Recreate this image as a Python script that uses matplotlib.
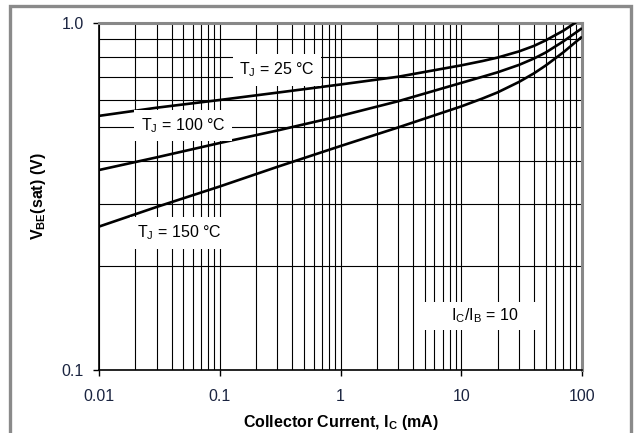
import numpy as np
import matplotlib.pyplot as plt
from matplotlib.patches import Rectangle
from matplotlib.ticker import LogLocator, FixedLocator, NullFormatter

plt.rcParams['font.family'] = ['Liberation Sans', 'DejaVu Sans']
plt.rcParams['mathtext.fontset'] = 'custom'
plt.rcParams['mathtext.rm'] = 'Liberation Sans'
plt.rcParams['mathtext.bf'] = 'Liberation Sans:bold'

# collector current (mA) and V_BE(sat) (V) for three junction temperatures
ic_ma = [0.01, 0.03, 0.1, 0.3, 1, 3, 10, 15, 20, 30, 40, 50, 70, 100]
vbe_25c = [0.54, 0.57, 0.60, 0.63, 0.665, 0.70, 0.755, 0.777, 0.795, 0.828, 0.859, 0.891, 0.95, 1.032]
vbe_100c = [0.377, 0.41, 0.451, 0.49, 0.54, 0.595, 0.672, 0.70, 0.721, 0.757, 0.79, 0.822, 0.885, 0.966]
vbe_150c = [0.259, 0.295, 0.338, 0.385, 0.442, 0.50, 0.575, 0.606, 0.631, 0.676, 0.716, 0.754, 0.823, 0.913]

x_ticks = [0.01, 0.1, 1, 10, 100]
x_ticklabels = ["0.01", "0.1", "1", "10", "100"]
y_ticks = [0.1, 1.0]
y_ticklabels = ["0.1", "1.0"]

label_color = "#1a2440"

fig = plt.figure(figsize=(6.34, 4.33), dpi=100)
ax = fig.add_axes([99 / 634, 63 / 433, 483 / 634, 347 / 433])

ax.set_xscale("log")
ax.set_yscale("log")
ax.set_xlim(0.01, 100)
ax.set_ylim(0.1, 1.0)

# grid: every minor decade line in x, 0.2..0.9 in y
ax.xaxis.set_minor_locator(LogLocator(base=10, subs=np.arange(2, 10)))
ax.yaxis.set_minor_locator(LogLocator(base=10, subs=np.arange(2, 10)))
ax.xaxis.set_minor_formatter(NullFormatter())
ax.yaxis.set_minor_formatter(NullFormatter())
ax.grid(True, which="both", color="black", linewidth=0.8)
ax.set_axisbelow(True)

ax.xaxis.set_major_locator(FixedLocator(x_ticks))
ax.set_xticklabels(x_ticklabels)
ax.yaxis.set_major_locator(FixedLocator(y_ticks))
ax.set_yticklabels(y_ticklabels)
ax.tick_params(which="minor", length=0)
ax.tick_params(axis="x", which="major", direction="out", length=4, width=1, pad=10,
               labelsize=11.5, labelcolor=label_color)
ax.tick_params(axis="y", which="major", direction="out", length=4, width=1, pad=7,
               labelsize=11.5, labelcolor=label_color)

for side in ("left", "bottom"):
    ax.spines[side].set_color("black")
    ax.spines[side].set_linewidth(1.2)
for side in ("top", "right"):
    ax.spines[side].set_color("#888888")
    ax.spines[side].set_linewidth(2.2)

for v in (vbe_25c, vbe_100c, vbe_150c):
    ax.plot(ic_ma, v, color="black", linewidth=1.9, solid_capstyle="butt", zorder=3)

box = dict(boxstyle="square,pad=0.4", facecolor="white", edgecolor="none")
ax.text(0.369, 0.865, r"T$_\mathregular{J}$ = 25 °C", transform=ax.transAxes, fontsize=11.5,
        ha="center", va="center", bbox=box, zorder=4)
ax.text(0.174, 0.705, r"T$_\mathregular{J}$ = 100 °C", transform=ax.transAxes, fontsize=11.5,
        ha="center", va="center", bbox=box, zorder=4)
ax.text(0.166, 0.395, r"T$_\mathregular{J}$ = 150 °C", transform=ax.transAxes, fontsize=11.5,
        ha="center", va="center", bbox=box, zorder=4)
ax.text(0.795, 0.156, r"     I$_\mathregular{C}$/I$_\mathregular{B}$ = 10     ", transform=ax.transAxes,
        fontsize=11.5, ha="center", va="center",
        bbox=dict(boxstyle="square,pad=0.3", facecolor="white", edgecolor="none"), zorder=4)

ax.set_ylabel(r"V$_\mathbf{BE}$(sat) (V)", fontsize=11.5, fontweight="bold")
ax.yaxis.set_label_coords(-51 / 483, 0.5)
ax.set_xlabel(r"Collector Current, I$_\mathbf{C}$ (mA)", fontsize=11.5, fontweight="bold", labelpad=6)

# grey frame around the whole figure
fig.patches.append(Rectangle((10 / 634, -0.05), 620.5 / 634, 1.05 - 5.5 / 433,
                             transform=fig.transFigure, fill=False,
                             edgecolor="#8a8a8a", linewidth=2.4))

fig.savefig("out.png", dpi=100)
